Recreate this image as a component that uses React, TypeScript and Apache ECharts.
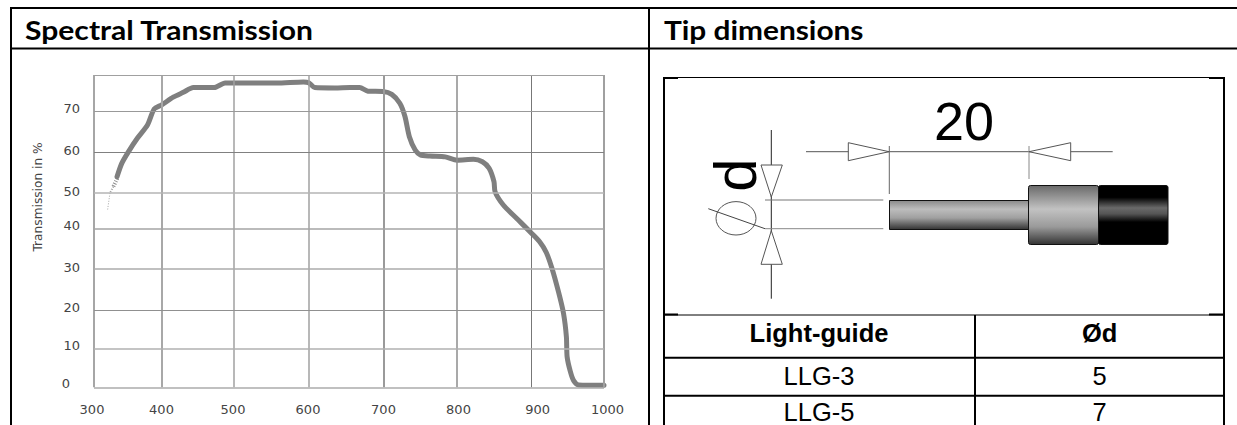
import React, { useEffect, useRef } from "react";
import * as echarts from "echarts";

// ---- chart values ----
const wavelengthTicks = [300, 400, 500, 600, 700, 800, 900, 1000];
const percentTicks = [0, 10, 20, 30, 40, 50, 60, 70];
const wavelengths = [334, 341, 351, 364, 379, 389, 400, 416, 430, 444, 473, 488, 500, 557, 593, 600, 608, 635, 655, 668, 679, 699, 711, 722, 729, 735, 743, 750, 763, 784, 800, 822, 834, 843, 849.5, 851, 862, 880, 900, 911, 920, 928, 937, 944, 948, 949, 953.5, 958, 965, 1000];
const transmission = [53.9, 57.2, 60.1, 63.4, 66.7, 70.7, 71.7, 73.6, 74.8, 76, 76, 77.1, 77.1, 77.1, 77.4, 77.2, 76, 75.9, 76, 76, 75.1, 75, 74.3, 72.1, 68.8, 63.8, 60.5, 59.3, 59, 58.8, 58, 58.2, 57.6, 56, 52.7, 50.2, 46.6, 42.9, 38.9, 36.8, 34.2, 30.2, 24.5, 19.2, 13, 7.8, 4, 1.7, 0.6, 0.5];
const tailWavelengths = [334.4, 328.5, 323.6, 320];
const tailTransmission = [53.5, 51.5, 49.9, 45.2];
const lightGuides = ["LLG-3", "LLG-5"];
const tipDiameters = ["5", "7"];

// the scanned grid is not evenly spaced: plot offsets (px) of each tick
const xGridOffsets = [0, 67.7, 139.7, 214.7, 289.7, 363, 437.7, 510];
const yGridOffsets = [0, 39, 77, 118.3, 158.3, 194.6, 235.3, 275.6];
const xLabelOffsets = [-2, 67.5, 139, 214, 289.5, 364.5, 443.7, 513.5];
const yLabelOffsets = [4, 41.6, 80, 119.6, 161.6, 196.3, 237, 278.6];
const PLOT_W = 510;
const PLOT_H = 312.3;

const warp = (v: number, ticks: number[], offs: number[]) => {
  for (let i = 1; i < ticks.length; i++) {
    if (v <= ticks[i] || i === ticks.length - 1) {
      return offs[i - 1] + ((v - ticks[i - 1]) / (ticks[i] - ticks[i - 1])) * (offs[i] - offs[i - 1]);
    }
  }
  return 0;
};
const wx = (v: number) => warp(v, wavelengthTicks, xGridOffsets);
const wy = (v: number) => warp(v, percentTicks, yGridOffsets);

const vStyles: [string, number][] = [["#a6a6a6", 2], ["#a8a8a8", 2], ["#a0a0a0", 1.5], ["#a0a0a0", 1.5], ["#9a9a9a", 2], ["#8c8c8c", 1.5], ["#777777", 1], ["#a0a0a0", 2]];
const hStyles: [string, number][] = [["#ababab", 1.5], ["#b0b0b0", 1.5], ["#909090", 1], ["#ababab", 1.5], ["#a4a4a4", 1.5], ["#b4b4b4", 1.5], ["#808080", 1], ["#999999", 1]];

const gridLines = [
  ...wavelengthTicks.map((t, i) => [
    { coord: [wx(t), 0], lineStyle: { color: vStyles[i][0], width: vStyles[i][1], type: "solid" } },
    { coord: [wx(t), PLOT_H] },
  ]),
  ...percentTicks.map((t, i) => [
    { coord: [0, wy(t)], lineStyle: { color: hStyles[i][0], width: hStyles[i][1], type: "solid" } },
    { coord: [PLOT_W, wy(t)] },
  ]),
  [
    { coord: [0, PLOT_H], lineStyle: { color: "#a0a0a0", width: 1, type: "solid" } },
    { coord: [PLOT_W, PLOT_H] },
  ],
];

const ln = (x1: number, y1: number, x2: number, y2: number, w = 2, c = "#000") => ({
  type: "line",
  shape: { x1, y1, x2, y2 },
  style: { stroke: c, lineWidth: w },
});
const tri = (pts: number[][]) => ({
  type: "polygon",
  shape: { points: pts },
  style: { fill: "#fff", stroke: "#555", lineWidth: 1 },
});
const txt = (text: string, x: number, y: number, fontSize: number, fontWeight: string, fontFamily: string, align = "center", extra: any = {}) => ({
  type: "text",
  x,
  y,
  ...extra,
  style: { text, x: 0, y: 0, fontSize, fontWeight, fontFamily, fill: extra.fill || "#000", align, verticalAlign: "middle" },
});
const grad = (stops: [number, string][]) =>
  new echarts.graphic.LinearGradient(0, 0, 0, 1, stops.map(([offset, color]) => ({ offset, color })));
const block = (x: number, y: number, width: number, height: number, stops: [number, string][], r = 0) => ({
  type: "rect",
  shape: { x, y, width, height, r },
  style: { fill: grad(stops), stroke: "#111", lineWidth: 1 },
});

const SANS = "Liberation Sans";
const HEAD = "Lato";

const graphics = [
  // table rules
  ln(10, 8, 1237, 8),
  ln(11, 7, 11, 425),
  ln(10, 48.5, 1237, 48.5),
  ln(649, 8, 649, 425),
  ln(664, 77.5, 1224, 77.5, 1),
  ln(664, 78, 678, 78),
  ln(1209, 78, 1224, 78),
  ln(664, 77, 664, 425),
  ln(1224, 77, 1224, 425),
  ln(664, 315, 1224, 315, 1),
  ln(664, 314.5, 678, 314.5),
  ln(1209, 314.5, 1224, 314.5),
  ln(664, 357.7, 1224, 357.7),
  ln(664, 395.7, 1224, 395.7),
  ln(975, 315, 975, 425),
  // headers
  txt("Spectral Transmission", 25, 29.5, 27, "bold", HEAD, "left", { scaleX: 1.115 }),
  txt("Tip dimensions", 664, 29.5, 27, "bold", HEAD, "left", { scaleX: 1.105 }),
  // y axis title
  txt("Transmission in %", 37.5, 197, 12.2, "normal", "DejaVu Sans", "center", { rotation: Math.PI / 2, fill: "#444" }),
  // drawing of the tip
  ln(771.3, 130, 771.3, 298.7, 1, "#222"),
  ln(806, 151.7, 1112.7, 151.7, 1, "#555"),
  ln(889.3, 146, 889.3, 194, 1, "#666"),
  ln(1029, 146, 1029, 179, 1, "#888"),
  ln(765, 200, 883.3, 200, 1, "#777"),
  ln(765, 228.7, 883.3, 228.7, 1, "#888"),
  tri([[848.3, 142.7], [848.3, 160.7], [889, 151.7]]),
  tri([[1029, 151.7], [1070.7, 142.7], [1070.7, 160.7]]),
  tri([[761, 165], [782.3, 165], [771.3, 197]]),
  tri([[771.3, 230.7], [761, 264.3], [782.3, 264.3]]),
  { type: "ellipse", shape: { cx: 736, cy: 218.3, rx: 20, ry: 16.7 }, style: { fill: "none", stroke: "#555", lineWidth: 1 } },
  ln(708.3, 208.7, 765, 228.7, 1, "#444"),
  txt("20", 964, 121, 54, "normal", SANS),
  txt("d", 735, 175, 60, "normal", SANS, "center", { rotation: Math.PI / 2 }),
  block(889.5, 200.5, 139, 29, [[0, "#8a8a8a"], [0.3, "#bdbdbd"], [0.6, "#a0a0a0"], [1, "#333"]]),
  block(1028.5, 185.5, 70, 59, [[0, "#6a6a6a"], [0.4, "#c2c2c2"], [0.7, "#9a9a9a"], [1, "#333"]], 2),
  block(1098.5, 185.5, 69.5, 59, [[0, "#000"], [0.2, "#000"], [0.38, "#6a6a6a"], [0.48, "#555"], [0.62, "#000"], [1, "#000"]], 2),
  // table of the tips
  txt("Light-guide", 819, 333, 25.5, "bold", SANS),
  txt("Ød", 1099.7, 333, 25.5, "bold", SANS),
  ...lightGuides.map((s, i) => txt(s, 819, 376 + i * 36, 25.5, "normal", SANS)),
  ...tipDiameters.map((s, i) => txt(s, 1099.7, 376 + i * 36, 25.5, "normal", SANS)),
];

const option: any = {
  animation: false,
  backgroundColor: "#fff",
  grid: { left: 84, right: 1237 - 614, top: 75, bottom: 425 - 387.3 },
  xAxis: {
    type: "value",
    min: -10,
    max: 520,
    axisLine: { show: false },
    axisTick: { show: false },
    splitLine: { show: false },
    axisLabel: {
      customValues: xLabelOffsets,
      margin: 16,
      fontSize: 13,
      fontFamily: "DejaVu Sans",
      color: "#444",
      formatter: (v: number) => String(wavelengthTicks[xLabelOffsets.indexOf(v)]),
    },
  },
  yAxis: {
    type: "value",
    min: 0,
    max: PLOT_H,
    axisLine: { show: false },
    axisTick: { show: false },
    splitLine: { show: false },
    axisLabel: {
      customValues: yLabelOffsets,
      margin: 4,
      fontSize: 13,
      fontFamily: "DejaVu Sans",
      color: "#444",
      formatter: (v: number) => {
        const t = percentTicks[yLabelOffsets.indexOf(v)];
        return t === 0 ? "{z|0}" : String(t);
      },
      rich: { z: { padding: [0, 10, 0, 0], fontSize: 13, fontFamily: "DejaVu Sans", color: "#444" } },
    },
  },
  series: [
    {
      type: "line",
      z: 1,
      data: [],
      markLine: { silent: true, symbol: "none", label: { show: false }, animation: false, data: gridLines },
    },
    {
      type: "line",
      z: 3,
      showSymbol: false,
      smooth: 0.25,
      lineStyle: { color: "#7f7f7f", width: 5, join: "round", cap: "round" },
      data: wavelengths.map((w, i) => [wx(w), wy(transmission[i])]),
    },
    ...[
      [0, 2, 4, "#909090"],
      [1, 3, 2, "#a0a0a0"],
      [2, 4, 1, "#a8a8a8"],
    ].map(([a, b, width, color]: any) => ({
      type: "line",
      z: 2,
      showSymbol: false,
      lineStyle: { color, width, type: [1, 1.6] },
      data: tailWavelengths.slice(a, b).map((w, i) => [wx(w), wy(tailTransmission[a + i])]),
    })),
  ],
  graphic: { elements: graphics },
};

export default function App() {
  const ref = useRef<HTMLDivElement>(null);
  useEffect(() => {
    document.body.style.margin = "0";
    const chart = echarts.init(ref.current!, undefined, { renderer: "svg" });
    chart.setOption(option);
    return () => chart.dispose();
  }, []);
  return <div ref={ref} style={{ width: 1237, height: 425 }} />;
}
